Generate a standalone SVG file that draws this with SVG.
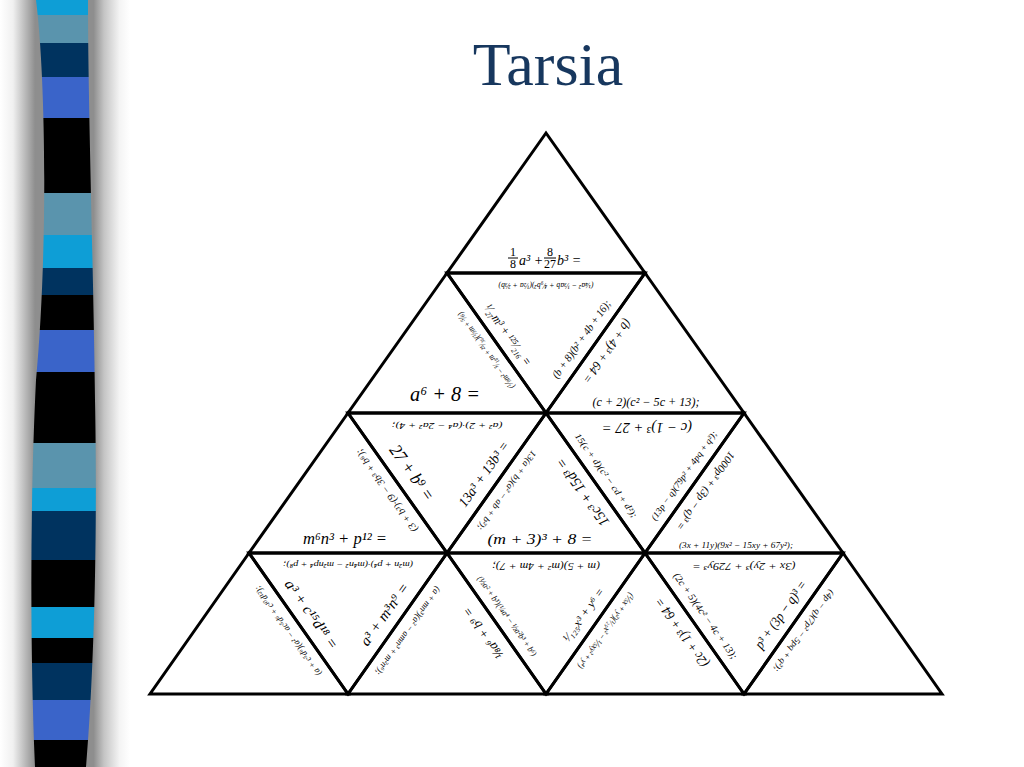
<svg xmlns="http://www.w3.org/2000/svg" width="1024" height="767" viewBox="0 0 1024 767">
<style>
.tri{fill:none;stroke:#000;stroke-width:3;stroke-linejoin:miter}
.m{font-family:"Liberation Serif","DejaVu Serif",serif;font-style:italic;fill:#000;text-anchor:middle}
.ms{font-family:"Liberation Serif","DejaVu Serif",serif;font-style:italic;fill:#000;text-anchor:start}
.n{font-family:"Liberation Serif","DejaVu Serif",serif;font-style:normal;fill:#000;text-anchor:middle}
.bar{stroke:#000;stroke-width:1}
</style>
<defs>
<linearGradient id="sh" gradientUnits="userSpaceOnUse" x1="0" y1="0" x2="130" y2="0">
<stop offset="0" stop-color="#ffffff"/>
<stop offset="0.1" stop-color="#f0f0f0"/>
<stop offset="0.27" stop-color="#8e8e8e"/>
<stop offset="0.72" stop-color="#8e8e8e"/>
<stop offset="0.8" stop-color="#c4c4c4"/>
<stop offset="0.92" stop-color="#f4f4f4"/>
<stop offset="1" stop-color="#ffffff"/>
</linearGradient>
<clipPath id="stripClip"><path d="M36,0 C46,80 48,250 36,380 C30,500 30,650 35,767 L86,767 C96,650 97,500 95,400 C93,250 88,100 88,0 Z"/></clipPath>
</defs>
<rect x="0" y="0" width="1024" height="767" fill="#fff"/>
<rect x="0" y="0" width="130" height="767" fill="url(#sh)"/>
<g id="strip" clip-path="url(#stripClip)">
<rect x="20" y="0" width="90" height="15" fill="#0e9ed6"/>
<rect x="20" y="15" width="90" height="28" fill="#5a94ad"/>
<rect x="20" y="43" width="90" height="34" fill="#00335f"/>
<rect x="20" y="77" width="90" height="41" fill="#3a64c9"/>
<rect x="20" y="118" width="90" height="75" fill="#000"/>
<rect x="20" y="193" width="90" height="42" fill="#5a94ad"/>
<rect x="20" y="235" width="90" height="33" fill="#0e9ed6"/>
<rect x="20" y="268" width="90" height="27" fill="#00335f"/>
<rect x="20" y="295" width="90" height="35" fill="#000"/>
<rect x="20" y="330" width="90" height="42" fill="#3a64c9"/>
<rect x="20" y="372" width="90" height="71" fill="#000"/>
<rect x="20" y="443" width="90" height="45" fill="#5a94ad"/>
<rect x="20" y="488" width="90" height="23" fill="#0e9ed6"/>
<rect x="20" y="511" width="90" height="49" fill="#00335f"/>
<rect x="20" y="560" width="90" height="47" fill="#000"/>
<rect x="20" y="607" width="90" height="31" fill="#0e9ed6"/>
<rect x="20" y="638" width="90" height="25" fill="#000"/>
<rect x="20" y="663" width="90" height="37" fill="#00335f"/>
<rect x="20" y="700" width="90" height="40" fill="#3a64c9"/>
<rect x="20" y="740" width="90" height="27" fill="#000"/>
</g>
<text id="title" x="548" y="85" font-family="Liberation Serif, serif" font-size="62" fill="#17375e" text-anchor="middle">Tarsia</text>

<g id="t1">
<polygon class="tri" points="546,133 447,273 645,273"/>
<text class="n" x="513" y="256" font-size="12">1</text>
<line class="bar" x1="508" y1="258" x2="518" y2="258"/>
<text class="n" x="513" y="268" font-size="12">8</text>
<text class="ms" x="519" y="265" font-size="14">a³ +</text>
<text class="n" x="550" y="256" font-size="12">8</text>
<line class="bar" x1="544" y1="258" x2="556" y2="258"/>
<text class="n" x="550" y="268" font-size="12">27</text>
<text class="ms" x="557" y="265" font-size="14">b³ =</text>
</g>

<g id="d2">
<polygon class="tri" points="447,273 645,273 546,413"/>
<g transform="translate(546,273) rotate(180)"><text class="m" y="-10" font-size="9" textLength="95" lengthAdjust="spacingAndGlyphs">(¼a² − ⅓ab + ⁴⁄₉b²)(½a + ⅔b)</text></g>
<g transform="translate(496.5,343) rotate(54.7)"><text class="m" y="-10" font-size="13" textLength="72" lengthAdjust="spacingAndGlyphs">¹⁄₂₇m³ + ¹²⁵⁄₂₁₆ =</text></g>
<g transform="translate(595.5,343) rotate(-54.7)"><text class="m" x="-5" y="-10" font-size="11" textLength="93" lengthAdjust="spacingAndGlyphs">(b + 8)(b² + 4b + 16);</text></g>
</g>

<g id="u2a">
<polygon class="tri" points="447,273 348,413 546,413"/>
<text class="m" x="445" y="401" font-size="21" textLength="70" lengthAdjust="spacingAndGlyphs">a⁶ + 8 =</text>
<g transform="translate(496.5,343) rotate(-125.3)"><text class="m" y="-10" font-size="9" textLength="92" lengthAdjust="spacingAndGlyphs">(⅑m² − ⁵⁄₁₈m + ²⁵⁄₃₆)(⅓m + ⅚)</text></g>
</g>

<g id="u2b">
<polygon class="tri" points="645,273 546,413 744,413"/>
<text class="m" x="646" y="406" font-size="12" textLength="107" lengthAdjust="spacingAndGlyphs">(c + 2)(c² − 5c + 13);</text>
<g transform="translate(595.5,343) rotate(125.3)"><text class="m" y="-10" font-size="13" textLength="75" lengthAdjust="spacingAndGlyphs">(b + 4)³ + 64 =</text></g>
</g>

<g id="d3a">
<polygon class="tri" points="348,413 546,413 447,553"/>
<g transform="translate(447,413) rotate(180)"><text class="m" y="-10" font-size="9" textLength="111" lengthAdjust="spacingAndGlyphs">(a² + 2)·(a⁴ − 2a² + 4);</text></g>
<g transform="translate(397.5,483) rotate(54.7)"><text class="m" y="-12" font-size="18" textLength="64" lengthAdjust="spacingAndGlyphs">27 + b⁹ =</text></g>
<g transform="translate(496.5,483) rotate(-54.7)"><text class="m" y="-11" font-size="14" textLength="77" lengthAdjust="spacingAndGlyphs">13a³ + 13b³ =</text></g>
</g>

<g id="u3a">
<polygon class="tri" points="348,413 249,553 447,553"/>
<text class="m" x="345" y="544" font-size="16" textLength="84" lengthAdjust="spacingAndGlyphs">m⁶n³ + p¹² =</text>
<g transform="translate(397.5,483) rotate(-125.3)"><text class="m" y="-10" font-size="10" textLength="99" lengthAdjust="spacingAndGlyphs">(3 + b³)·(9 − 3b³ + b⁶);</text></g>
</g>

<g id="u3b">
<polygon class="tri" points="546,413 447,553 645,553"/>
<text class="m" x="540" y="544" font-size="15" textLength="105" lengthAdjust="spacingAndGlyphs">(m + 3)³ + 8 =</text>
<g transform="translate(496.5,483) rotate(125.3)"><text class="m" y="-10" font-size="9" textLength="95" lengthAdjust="spacingAndGlyphs">13(a + b)(a² − ab + b²);</text></g>
<g transform="translate(595.5,483) rotate(-125.3)"><text class="m" y="-11" font-size="15" textLength="80" lengthAdjust="spacingAndGlyphs">15c³ + 15d³ =</text></g>
</g>

<g id="d3b">
<polygon class="tri" points="546,413 744,413 645,553"/>
<g transform="translate(645,413) rotate(180)"><text class="m" x="-2" y="-10" font-size="14" textLength="90" lengthAdjust="spacingAndGlyphs">(c − 1)³ + 27 =</text></g>
<g transform="translate(595.5,483) rotate(54.7)"><text class="m" y="-10" font-size="9" textLength="101" lengthAdjust="spacingAndGlyphs">15(c + d)(c² − cd + d²);</text></g>
<g transform="translate(694.5,483) rotate(-54.7)"><text class="m" y="-10" font-size="9" textLength="107" lengthAdjust="spacingAndGlyphs">(13p − q)(79p² + 4pq + q²);</text></g>
</g>

<g id="u3c">
<polygon class="tri" points="744,413 645,553 843,553"/>
<text class="m" x="736" y="548" font-size="9" textLength="114" lengthAdjust="spacingAndGlyphs">(3x + 11y)(9x² − 15xy + 67y²);</text>
<g transform="translate(694.5,483) rotate(125.3)"><text class="m" y="-10" font-size="11" textLength="93" lengthAdjust="spacingAndGlyphs">1000p³ + (3p − q)³ =</text></g>
</g>

<g id="u4a">
<polygon class="tri" points="249,553 150,694 348,694"/>
<g transform="translate(298.5,623.5) rotate(-125.3)"><text class="m" y="-10" font-size="9" textLength="108" lengthAdjust="spacingAndGlyphs">(a + c⁵d⁶)(a² − ac⁵d⁶ + c¹⁰d¹²);</text></g>
</g>

<g id="d4a">
<polygon class="tri" points="249,553 447,553 348,694"/>
<g transform="translate(348,553) rotate(180)"><text class="m" y="-9" font-size="8" textLength="130" lengthAdjust="spacingAndGlyphs">(m²n + p⁴)·(m⁴n² − m²np⁴ + p⁸);</text></g>
<g transform="translate(298.5,623.5) rotate(54.7)"><text class="m" y="-11" font-size="15" textLength="81" lengthAdjust="spacingAndGlyphs">a³ + c¹⁵d¹⁸ =</text></g>
<g transform="translate(397.5,623.5) rotate(-54.7)"><text class="m" y="-11" font-size="15" textLength="73" lengthAdjust="spacingAndGlyphs">a³ + m³n⁹ =</text></g>
</g>

<g id="u4b">
<polygon class="tri" points="447,553 348,694 546,694"/>
<g transform="translate(397.5,623.5) rotate(125.3)"><text class="m" y="-10" font-size="9" textLength="106" lengthAdjust="spacingAndGlyphs">(a + mn³)(a² − amn³ + m²n⁶);</text></g>
<g transform="translate(496.5,623.5) rotate(-125.3)"><text class="m" y="-12" font-size="13" textLength="60" lengthAdjust="spacingAndGlyphs">⅛a⁶ + b⁹ =</text></g>
</g>

<g id="d4b">
<polygon class="tri" points="447,553 645,553 546,694"/>
<g transform="translate(546,553) rotate(180)"><text class="m" y="-10" font-size="10" textLength="108" lengthAdjust="spacingAndGlyphs">(m + 5)(m² + 4m + 7);</text></g>
<g transform="translate(496.5,623.5) rotate(54.7)"><text class="m" y="-10" font-size="9" textLength="96" lengthAdjust="spacingAndGlyphs">(½a² + b³)(¼a⁴ − ½a²b³ + b⁶)</text></g>
<g transform="translate(595.5,623.5) rotate(-54.7)"><text class="m" y="-11" font-size="12" textLength="63" lengthAdjust="spacingAndGlyphs">¹⁄₁₂₅x³ + y⁶ =</text></g>
</g>

<g id="u4c">
<polygon class="tri" points="645,553 546,694 744,694"/>
<g transform="translate(595.5,623.5) rotate(125.3)"><text class="m" y="-10" font-size="9" textLength="90" lengthAdjust="spacingAndGlyphs">(⅕x + y²)(¹⁄₂₅x² − ⅕xy² + y⁴)</text></g>
<g transform="translate(694.5,623.5) rotate(-125.3)"><text class="m" y="-11" font-size="14" textLength="82" lengthAdjust="spacingAndGlyphs">(2c + 1)³ + 64 =</text></g>
</g>

<g id="d4c">
<polygon class="tri" points="645,553 843,553 744,694"/>
<g transform="translate(744,553) rotate(180)"><text class="m" y="-10" font-size="11" textLength="103" lengthAdjust="spacingAndGlyphs">(3x + 2y)³ + 729y³ =</text></g>
<g transform="translate(694.5,623.5) rotate(54.7)"><text class="m" y="-10" font-size="10" textLength="103" lengthAdjust="spacingAndGlyphs">(2c + 5)(4c² − 4c + 13);</text></g>
<g transform="translate(793.5,623.5) rotate(-54.7)"><text class="m" y="-11" font-size="14" textLength="80" lengthAdjust="spacingAndGlyphs">p³ + (3p − q)³ =</text></g>
</g>

<g id="u4d">
<polygon class="tri" points="843,553 744,694 942,694"/>
<g transform="translate(793.5,623.5) rotate(125.3)"><text class="m" y="-10" font-size="9" textLength="98" lengthAdjust="spacingAndGlyphs">(4p − q)(7p² − 5pq + q²);</text></g>
</g>

<g id="connectors"></g>
</svg>
